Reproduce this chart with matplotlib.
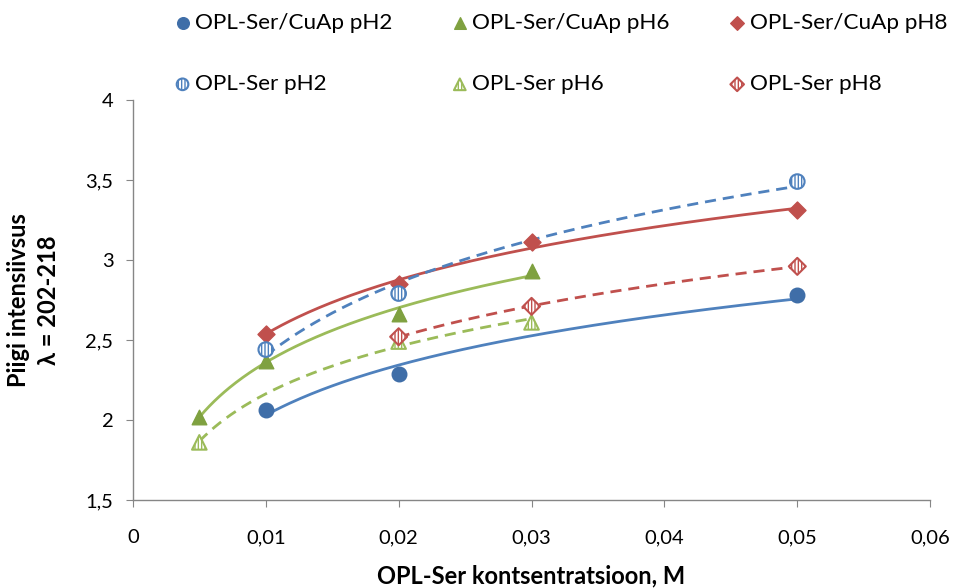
import numpy as np
import matplotlib
matplotlib.use("Agg")
import matplotlib.pyplot as plt
from matplotlib.ticker import FuncFormatter

plt.rcParams['font.family'] = ['Lato', 'DejaVu Sans']

# Data
cuap_ph2_x = [0.01, 0.02, 0.05]
cuap_ph2_y = [2.06, 2.29, 2.78]
cuap_ph6_x = [0.005, 0.01, 0.02, 0.03]
cuap_ph6_y = [2.02, 2.37, 2.66, 2.93]
cuap_ph8_x = [0.01, 0.02, 0.03, 0.05]
cuap_ph8_y = [2.54, 2.85, 3.11, 3.31]
ser_ph2_x = [0.01, 0.02, 0.05]
ser_ph2_y = [2.44, 2.79, 3.49]
ser_ph6_x = [0.005, 0.02, 0.03]
ser_ph6_y = [1.86, 2.49, 2.61]
ser_ph8_x = [0.02, 0.03, 0.05]
ser_ph8_y = [2.52, 2.71, 2.96]

labels = ["OPL-Ser/CuAp pH2", "OPL-Ser/CuAp pH6", "OPL-Ser/CuAp pH8",
          "OPL-Ser pH2", "OPL-Ser pH6", "OPL-Ser pH8"]

blue_l, blue_m = "#4F81BD", "#3F6EA8"
green_l, green_m = "#9BBB59", "#7FA140"
red_l, red_m = "#C0504D", "#C0504D"

fig = plt.figure(figsize=(9.56, 5.88), dpi=100)
ax = fig.add_axes([0.139, 0.1497, 0.834, 0.6803])

def logfit(x, y, color, ls):
    x = np.asarray(x); y = np.asarray(y)
    a, b = np.polyfit(np.log(x), y, 1)
    xs = np.linspace(x.min(), x.max(), 200)
    if ls == '--':
        ax.plot(xs, a * np.log(xs) + b, color=color, lw=2, zorder=2, dashes=(4, 2.5))
    else:
        ax.plot(xs, a * np.log(xs) + b, color=color, lw=2, zorder=2)

logfit(cuap_ph2_x, cuap_ph2_y, blue_l, '-')
logfit(cuap_ph6_x, cuap_ph6_y, green_l, '-')
logfit(cuap_ph8_x, cuap_ph8_y, red_l, '-')
logfit(ser_ph2_x, ser_ph2_y, blue_l, '--')
logfit(ser_ph6_x, ser_ph6_y, green_l, '--')
logfit(ser_ph8_x, ser_ph8_y, red_l, '--')

h1 = ax.scatter(cuap_ph2_x, cuap_ph2_y, marker='o', s=110, color=blue_m, zorder=3, label=labels[0])
h2 = ax.scatter(cuap_ph6_x, cuap_ph6_y, marker='^', s=110, color=green_m, zorder=3, label=labels[1])
h3 = ax.scatter(cuap_ph8_x, cuap_ph8_y, marker='D', s=75, color=red_m, zorder=3, label=labels[2])
h4 = ax.scatter(ser_ph2_x, ser_ph2_y, marker='o', s=110, facecolor='white', edgecolor=blue_l,
                hatch='|||||', linewidth=1.5, zorder=3, label=labels[3])
h5 = ax.scatter(ser_ph6_x, ser_ph6_y, marker='^', s=110, facecolor='white', edgecolor=green_l,
                hatch='|||||', linewidth=1.5, zorder=3, label=labels[4])
h6 = ax.scatter(ser_ph8_x, ser_ph8_y, marker='D', s=75, facecolor='white', edgecolor=red_l,
                hatch='|||||', linewidth=1.5, zorder=3, label=labels[5])

ax.set_xlim(0, 0.06)
ax.set_ylim(1.5, 4)
ax.set_xticks(np.arange(0, 0.0601, 0.01))
ax.set_yticks(np.arange(1.5, 4.01, 0.5))
ax.xaxis.set_major_formatter(FuncFormatter(lambda v, p: ("%g" % round(v, 3)).replace('.', ',')))
ax.yaxis.set_major_formatter(FuncFormatter(lambda v, p: ("%g" % round(v, 2)).replace('.', ',')))
for s in ['top', 'right']:
    ax.spines[s].set_visible(False)
for s in ['left', 'bottom']:
    ax.spines[s].set_color('#868686')
    ax.spines[s].set_linewidth(1)
ax.tick_params(axis='both', direction='out', length=5, color='#868686', labelsize=14.5)
ax.tick_params(axis='x', pad=16)
ax.tick_params(axis='y', pad=9)

ax.set_xlabel("OPL-Ser kontsentratsioon, M", fontsize=17, fontweight='bold', labelpad=13)
ax.set_ylabel("Piigi intensiivsus\nλ = 202-218", fontsize=17, fontweight='bold', labelpad=18,
              linespacing=1.4)

handles = [h1, h4, h2, h5, h3, h6]
fig.legend(handles, [h.get_label() for h in handles], ncol=3, loc='upper left',
           bbox_to_anchor=(0.158, 1.013), frameon=False, fontsize=16.2, handletextpad=0.05,
           columnspacing=2.5, labelspacing=1.85, markerscale=0.8, handlelength=1.0)

fig.savefig("out.png", dpi=100)
